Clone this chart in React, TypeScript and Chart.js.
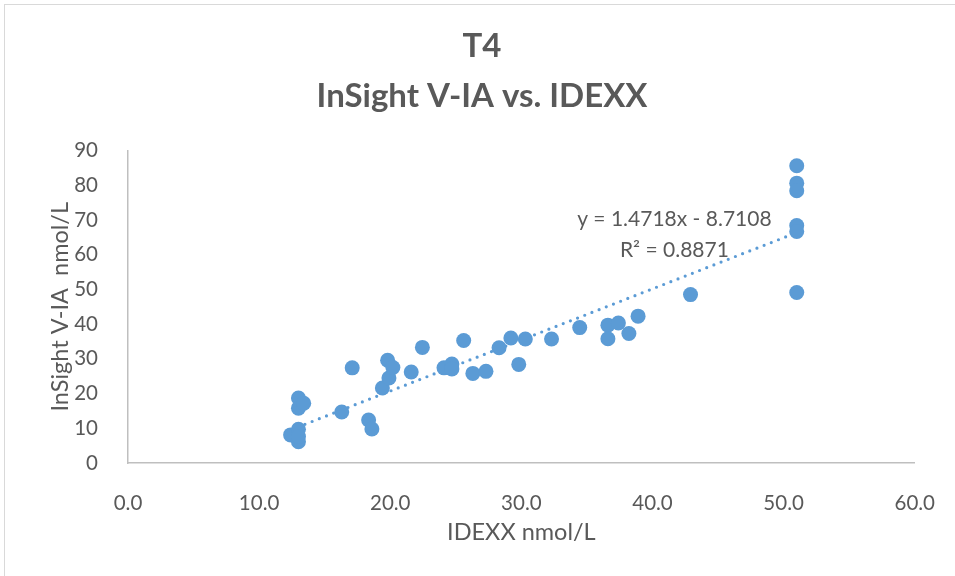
import React, { useEffect, useRef } from "react";
import { Chart, registerables } from "chart.js";

Chart.register(...registerables);

const titleLines = ["T4", "InSight V-IA vs. IDEXX"];
const xAxisTitle = "IDEXX nmol/L";
const yAxisTitle = "InSight V-IA  nmol/L";

const idexxValues = [
  12.4, 13.0, 13.0, 13.0, 13.0, 13.0, 13.4, 16.3, 17.1, 18.35, 18.6, 19.4,
  19.9, 19.8, 20.2, 21.6, 22.45, 24.1, 24.7, 24.7, 25.6, 26.3, 27.3, 28.3,
  29.2, 29.8, 30.3, 32.3, 34.45, 36.6, 36.6, 37.4, 38.2, 38.9, 42.9, 51.0,
  51.0, 51.0, 51.0, 51.0, 51.0,
];
const insightValues = [
  8.1, 9.7, 6.1, 7.6, 18.7, 15.8, 17.2, 14.7, 27.4, 12.4, 9.8, 21.6, 24.5,
  29.6, 27.5, 26.2, 33.3, 27.4, 28.5, 27.1, 35.3, 25.8, 26.4, 33.2, 36.0,
  28.4, 35.7, 35.7, 39.0, 39.7, 35.8, 40.3, 37.3, 42.3, 48.5, 85.6, 80.6,
  78.4, 68.4, 66.7, 49.1,
];

const trendSlope = 1.4718;
const trendIntercept = -8.7108;
const rSquared = 0.8871;

const xTicks = [0, 10, 20, 30, 40, 50, 60];
const yTicks = [0, 10, 20, 30, 40, 50, 60, 70, 80, 90];

const BLUE = "#5B9BD5";
const TEXT = "#595959";
const FONT = "Lato, 'Open Sans', sans-serif";

export default function App() {
  const canvasRef = useRef<HTMLCanvasElement | null>(null);

  useEffect(() => {
    document.body.style.margin = "0";
    const canvas = canvasRef.current;
    if (!canvas) return;

    const points = idexxValues.map((x, i) => ({ x, y: insightValues[i] }));
    const xMin = Math.min(...idexxValues);
    const xMax = Math.max(...idexxValues);
    const trend = [
      { x: xMin, y: trendSlope * xMin + trendIntercept },
      { x: xMax, y: trendSlope * xMax + trendIntercept },
    ];
    const eqText = `y = ${trendSlope}x - ${Math.abs(trendIntercept)}`;
    const r2Text = `R² = ${rSquared}`;

    const labelPlugin = {
      id: "trendLabel",
      afterDatasetsDraw(chart: any) {
        const { ctx, scales } = chart;
        const cx = scales.x.getPixelForValue(41.67);
        const cy = scales.y.getPixelForValue(70.3);
        ctx.save();
        ctx.font = `21px ${FONT}`;
        ctx.fillStyle = TEXT;
        ctx.textAlign = "center";
        ctx.textBaseline = "middle";
        ctx.fillText(eqText, cx, cy);
        ctx.fillText(r2Text, cx, cy + 31);
        ctx.restore();
      },
    };

    const chart = new Chart(canvas, {
      type: "scatter",
      data: {
        datasets: [
          {
            label: "InSight",
            data: points,
            backgroundColor: BLUE,
            borderColor: BLUE,
            pointRadius: 7.5,
            pointHoverRadius: 7.5,
            borderWidth: 0,
          },
          {
            label: "Trend",
            type: "line",
            data: trend,
            borderColor: BLUE,
            borderWidth: 3.2,
            borderDash: [0, 7.7],
            borderCapStyle: "round",
            pointRadius: 0,
            fill: false,
          } as any,
        ],
      },
      options: {
        animation: false,
        responsive: false,
        layout: { padding: { left: 46, right: 37, top: 0, bottom: 22 } },
        plugins: {
          legend: { display: false },
          tooltip: { enabled: false },
          title: {
            display: true,
            text: titleLines,
            color: TEXT,
            font: { family: FONT, size: 33, weight: "bold", lineHeight: 1.5 },
            padding: { top: 22, bottom: 29.5 },
          },
        },
        scales: {
          x: {
            type: "linear",
            min: 0,
            max: 60,
            afterBuildTicks: (s: any) => {
              s.ticks = xTicks.map((v) => ({ value: v }));
            },
            afterFit: (s: any) => {
              s.height = 576 - 463 - 22;
            },
            ticks: {
              color: TEXT,
              font: { family: FONT, size: 20.5 },
              padding: 20,
              callback: (v: any) => Number(v).toFixed(1),
            },
            grid: { display: false },
            border: { display: true, color: "#BFBFBF", width: 1.5 },
            title: {
              display: true,
              text: xAxisTitle,
              color: TEXT,
              font: { family: FONT, size: 23.5 },
              padding: { top: 0, bottom: 7 },
            },
          },
          y: {
            type: "linear",
            min: 0,
            max: 90,
            afterBuildTicks: (s: any) => {
              s.ticks = yTicks.map((v) => ({ value: v }));
            },
            afterFit: (s: any) => {
              s.width = 128 - 46;
            },
            ticks: {
              color: TEXT,
              font: { family: FONT, size: 20.5 },
              padding: 22,
            },
            grid: { display: false },
            border: { display: true, color: "#BFBFBF", width: 1.5 },
            title: {
              display: true,
              text: yAxisTitle,
              color: TEXT,
              font: { family: FONT, size: 23.5 },
              padding: { top: 0, bottom: 0 },
            },
          },
        },
      },
      plugins: [labelPlugin],
    });

    return () => chart.destroy();
  }, []);

  return (
    <div style={{ position: "relative", width: 955, height: 576, overflow: "hidden", background: "#fff" }}>
      <div
        style={{
          position: "absolute",
          left: 4,
          top: 4,
          width: 970,
          height: 590,
          border: "1.5px solid #D9D9D9",
          boxSizing: "border-box",
        }}
      />
      <canvas ref={canvasRef} width={955} height={576} style={{ position: "absolute", left: 0, top: 0 }} />
    </div>
  );
}
